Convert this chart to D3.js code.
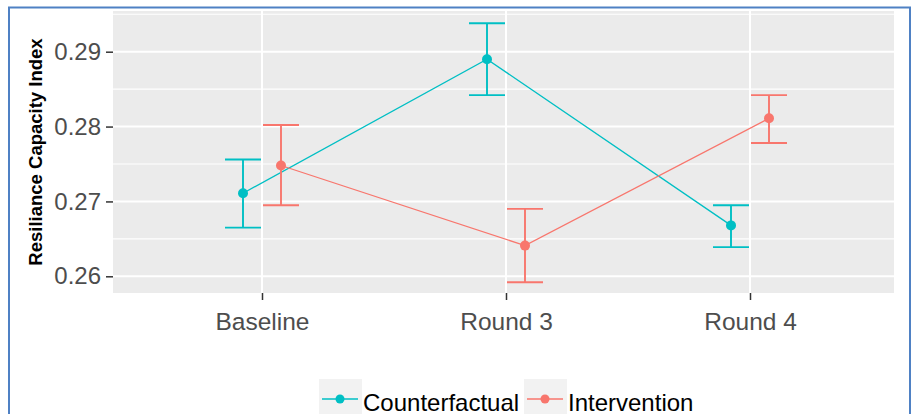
<!DOCTYPE html>
<html>
<head>
<meta charset="utf-8">
<script src="https://cdn.jsdelivr.net/npm/d3@7"></script>
<style>
  html, body { margin: 0; padding: 0; background: #ffffff; }
  svg { display: block; font-family: "Liberation Sans", Arial, sans-serif; }
</style>
</head>
<body>
<svg id="chart" width="917" height="414"></svg>
<script>
// ---- data ----
const categories = ["Baseline", "Round 3", "Round 4"];
const seriesNames = ["Counterfactual", "Intervention"];
const counterfactualMean = [0.2711, 0.2890, 0.2668];
const counterfactualLow  = [0.2665, 0.2842, 0.2639];
const counterfactualHigh = [0.2756, 0.2938, 0.2695];
const interventionMean = [0.2748, 0.2641, 0.2811];
const interventionLow  = [0.2695, 0.2592, 0.2778];
const interventionHigh = [0.2802, 0.2690, 0.2842];
const yTicks = [0.26, 0.27, 0.28, 0.29];
const yMinor = [0.265, 0.275, 0.285, 0.295];
const yTitle = "Resiliance Capacity Index";
const colors = ["#00BFC4", "#F8766D"];

const series = [
  { name: seriesNames[0], color: colors[0], offset: -19,
    values: categories.map((c, i) => ({ cat: c, m: counterfactualMean[i], lo: counterfactualLow[i], hi: counterfactualHigh[i] })) },
  { name: seriesNames[1], color: colors[1], offset: 19,
    values: categories.map((c, i) => ({ cat: c, m: interventionMean[i], lo: interventionLow[i], hi: interventionHigh[i] })) }
];

// ---- layout ----
const svg = d3.select("#chart");
const panel = { left: 113, right: 894, top: 11, bottom: 293 };

const x = d3.scalePoint().domain(categories).range([262, 750]);
const y = d3.scaleLinear().domain([0.26, 0.29]).range([276.3, 51.7]);

// outer frame
svg.append("rect")
  .attr("x", 9).attr("y", 7.5).attr("width", 901).attr("height", 420)
  .attr("fill", "none").attr("stroke", "#4f81c4").attr("stroke-width", 2);

// panel background
svg.append("rect")
  .attr("x", panel.left).attr("y", panel.top)
  .attr("width", panel.right - panel.left).attr("height", panel.bottom - panel.top)
  .attr("fill", "#EBEBEB");

const grid = svg.append("g");
grid.selectAll(".minor").data(yMinor).join("line")
  .attr("x1", panel.left).attr("x2", panel.right)
  .attr("y1", d => y(d)).attr("y2", d => y(d))
  .attr("stroke", "#ffffff").attr("stroke-width", 1.1);
grid.selectAll(".major").data(yTicks).join("line")
  .attr("x1", panel.left).attr("x2", panel.right)
  .attr("y1", d => y(d)).attr("y2", d => y(d))
  .attr("stroke", "#ffffff").attr("stroke-width", 2);
grid.selectAll(".vmajor").data(categories).join("line")
  .attr("x1", d => x(d)).attr("x2", d => x(d))
  .attr("y1", panel.top).attr("y2", panel.bottom)
  .attr("stroke", "#ffffff").attr("stroke-width", 2);

// axes
const yAxis = d3.axisLeft(y).tickValues(yTicks).tickSize(7).tickPadding(5).tickFormat(d3.format(".2f"));
const gy = svg.append("g").attr("transform", `translate(${panel.left},0)`).call(yAxis);
gy.select(".domain").remove();
gy.selectAll(".tick line").attr("stroke", "#333333").attr("stroke-width", 1.5);
gy.selectAll(".tick text").attr("fill", "#4D4D4D").attr("font-size", "24px")
  .attr("font-family", "Liberation Sans, Arial, sans-serif");

const xAxis = d3.axisBottom(x).tickSize(7).tickPadding(12.5);
const gx = svg.append("g").attr("transform", `translate(0,${panel.bottom})`).call(xAxis);
gx.select(".domain").remove();
gx.selectAll(".tick line").attr("stroke", "#333333").attr("stroke-width", 1.5);
gx.selectAll(".tick text").attr("fill", "#4D4D4D").attr("font-size", "24.5px")
  .attr("font-family", "Liberation Sans, Arial, sans-serif");

// y title
svg.append("text")
  .attr("transform", `translate(42,152) rotate(-90)`)
  .attr("text-anchor", "middle")
  .attr("font-size", "18.5px").attr("font-weight", "bold")
  .attr("fill", "#000000")
  .text(yTitle);

// series
const line = d3.line().x(d => d.px).y(d => y(d.m));
series.forEach(s => {
  const pts = s.values.map(v => Object.assign({ px: x(v.cat) + s.offset }, v));
  const g = svg.append("g");
  g.append("path").datum(pts).attr("d", line)
    .attr("fill", "none").attr("stroke", s.color).attr("stroke-width", 1.3);
  const eb = g.selectAll(".eb").data(pts).join("g");
  eb.append("line").attr("x1", d => d.px).attr("x2", d => d.px)
    .attr("y1", d => y(d.lo)).attr("y2", d => y(d.hi))
    .attr("stroke", s.color).attr("stroke-width", 1.9);
  eb.append("line").attr("x1", d => d.px - 18).attr("x2", d => d.px + 18)
    .attr("y1", d => y(d.hi)).attr("y2", d => y(d.hi))
    .attr("stroke", s.color).attr("stroke-width", 1.9);
  eb.append("line").attr("x1", d => d.px - 18).attr("x2", d => d.px + 18)
    .attr("y1", d => y(d.lo)).attr("y2", d => y(d.lo))
    .attr("stroke", s.color).attr("stroke-width", 1.9);
  g.selectAll("circle").data(pts).join("circle")
    .attr("cx", d => d.px).attr("cy", d => y(d.m)).attr("r", 5)
    .attr("fill", s.color);
});

// legend
const legendItems = [
  { name: seriesNames[0], color: colors[0], x: 319 },
  { name: seriesNames[1], color: colors[1], x: 524 }
];
const lg = svg.append("g");
legendItems.forEach(it => {
  lg.append("rect").attr("x", it.x).attr("y", 379).attr("width", 43).attr("height", 40).attr("fill", "#F2F2F2");
  lg.append("line").attr("x1", it.x + 3).attr("x2", it.x + 39).attr("y1", 399).attr("y2", 399)
    .attr("stroke", it.color).attr("stroke-width", 1.5);
  lg.append("circle").attr("cx", it.x + 21).attr("cy", 399).attr("r", 4.5).attr("fill", it.color);
  lg.append("text").attr("x", it.x + 44).attr("y", 410.5)
    .attr("font-size", "24px").attr("fill", "#000000").text(it.name);
});
</script>
</body>
</html>
